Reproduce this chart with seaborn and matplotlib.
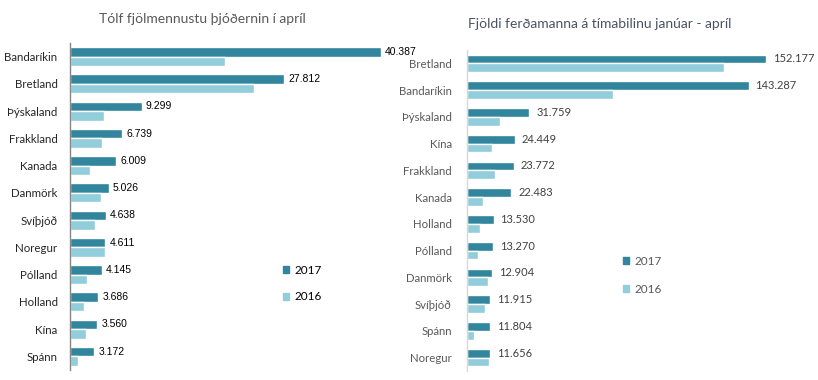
import matplotlib
matplotlib.use("Agg")
import matplotlib.pyplot as plt
import seaborn as sns
import pandas as pd
from matplotlib.patches import Patch

# ---- data ----
years = ["2017", "2016"]

left_countries = ["Bandaríkin", "Bretland", "Þýskaland", "Frakkland", "Kanada", "Danmörk",
                  "Svíþjóð", "Noregur", "Pólland", "Holland", "Kína", "Spánn"]
left_2017 = [40387, 27812, 9299, 6739, 6009, 5026, 4638, 4611, 4145, 3686, 3560, 3172]
left_2016 = [20150, 23880, 4380, 4210, 2560, 3990, 3210, 4510, 2170, 1780, 2040, 1000]

right_countries = ["Bretland", "Bandaríkin", "Þýskaland", "Kína", "Frakkland", "Kanada",
                   "Holland", "Pólland", "Danmörk", "Svíþjóð", "Spánn", "Noregur"]
right_2017 = [152177, 143287, 31759, 24449, 23772, 22483, 13530, 13270, 12904, 11915, 11804, 11656]
right_2016 = [131000, 74500, 16950, 12900, 14400, 8300, 6780, 5760, 10850, 9320, 3720, 11350]

left_title = "Tólf fjölmennustu þjóðernin í apríl"
right_title = "Fjöldi ferðamanna á tímabilinu janúar - apríl"

DARK = "#31859C"
LIGHT = "#92CDDC"
palette = [DARK, LIGHT]


def long_df(countries, v17, v16):
    return pd.DataFrame({
        "country": countries * 2,
        "value": v17 + v16,
        "year": [years[0]] * len(countries) + [years[1]] * len(countries),
    })


def fmt(v):
    return f"{v:,}".replace(",", ".")


sns.set_theme(style="white")
plt.rcParams["font.family"] = ["Lato", "DejaVu Sans"]

fig = plt.figure(figsize=(8.18, 3.80), dpi=100)

# ---------- left chart ----------
axL = fig.add_axes([70 / 818, 10 / 380, 331 / 818, 327 / 380])
dfL = long_df(left_countries, left_2017, left_2016)
sns.barplot(data=dfL, y="country", x="value", hue="year", hue_order=years,
            order=left_countries, palette=palette, orient="h", width=0.69,
            saturation=1, ax=axL, legend=False)
axL.set_xlim(0, 43000)
axL.set_ylim(len(left_countries) - 0.5, -0.5)
axL.set_xlabel("")
axL.set_ylabel("")
axL.set_xticks([])
for s in ["top", "right", "bottom"]:
    axL.spines[s].set_visible(False)
axL.spines["left"].set_color("#868686")
axL.spines["left"].set_linewidth(1.0)
axL.tick_params(axis="y", length=0, pad=9, labelsize=8.3, labelcolor="#262626")
for i, v in enumerate(left_2017):
    axL.annotate(fmt(v), xy=(v, i - 0.69 / 4), xytext=(3, 0), textcoords="offset points",
                 va="center", ha="left", fontsize=7.5, color="#000000",
                 family=["Liberation Sans Narrow", "Liberation Sans", "DejaVu Sans"],
                 annotation_clip=False)
legL = axL.legend(handles=[Patch(color=DARK, label=years[0]), Patch(color=LIGHT, label=years[1])],
                  loc="upper left", bbox_to_anchor=(283 / 818, 1 - 265 / 380),
                  bbox_transform=fig.transFigure, frameon=False, fontsize=8.5,
                  handlelength=0.55, handleheight=0.55, handletextpad=0.4,
                  labelspacing=1.3, borderpad=0, borderaxespad=0)
for t in legL.get_texts():
    t.set_color("#000000")

fig.text(202 / 818, 1 - 19 / 380, left_title, ha="center", va="center",
         fontsize=10, color="#595959")

# ---------- right chart ----------
axR = fig.add_axes([467 / 818, 9 / 380, 334 / 818, 321 / 380])
dfR = long_df(right_countries, right_2017, right_2016)
sns.barplot(data=dfR, y="country", x="value", hue="year", hue_order=years,
            order=right_countries, palette=palette, orient="h", width=0.66,
            saturation=1, ax=axR, legend=False)
axR.set_xlim(0, 170000)
axR.set_ylim(len(right_countries) - 0.5, -0.5)
axR.set_xlabel("")
axR.set_ylabel("")
axR.set_xticks([])
for s in ["top", "right", "bottom"]:
    axR.spines[s].set_visible(False)
axR.spines["left"].set_color("#D9D9D9")
axR.spines["left"].set_linewidth(1.0)
axR.tick_params(axis="y", length=0, pad=11, labelsize=8.2, labelcolor="#595959")
for i, v in enumerate(right_2017):
    axR.annotate(fmt(v), xy=(v, i - 0.66 / 4), xytext=(5, 0), textcoords="offset points",
                 va="center", ha="left", fontsize=8, color="#404040",
                 annotation_clip=False)
legR = axR.legend(handles=[Patch(color=DARK, label=years[0]), Patch(color=LIGHT, label=years[1])],
                  loc="upper left", bbox_to_anchor=(623 / 818, 1 - 256 / 380),
                  bbox_transform=fig.transFigure, frameon=False, fontsize=8.5,
                  handlelength=0.55, handleheight=0.55, handletextpad=0.4,
                  labelspacing=1.45, borderpad=0, borderaxespad=0)
for t in legR.get_texts():
    t.set_color("#595959")

fig.text(600 / 818, 1 - 24 / 380, right_title, ha="center", va="center",
         fontsize=10, color="#4A5366")

fig.savefig("out.png", dpi=100)
